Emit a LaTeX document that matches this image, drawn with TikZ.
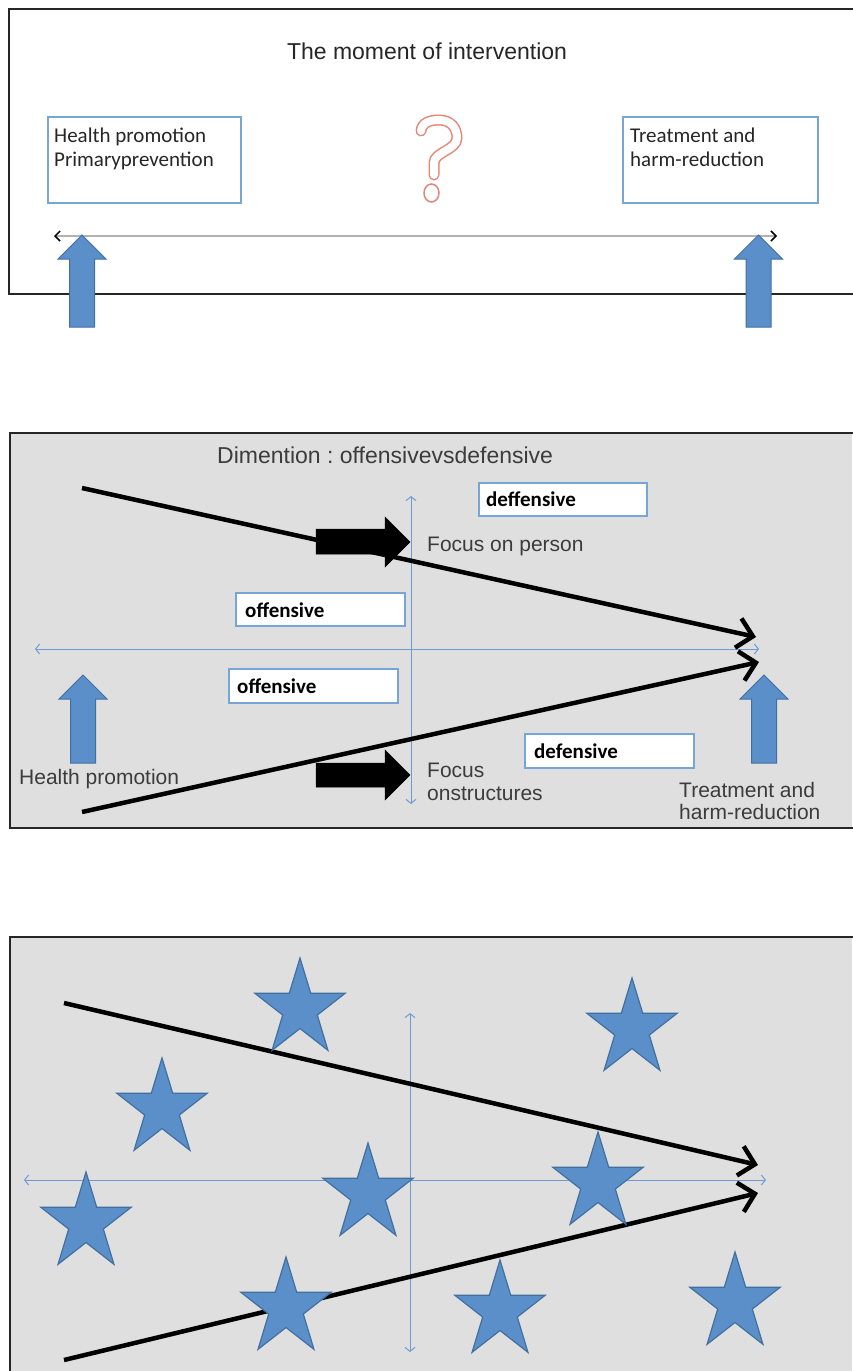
\documentclass[tikz,border=0pt]{standalone}
\usepackage{fontspec}
\setmainfont{Liberation Sans}
\newfontfamily\calfont{Carlito}
\usetikzlibrary{arrows.meta}
\definecolor{bluefill}{RGB}{91,143,202}
\definecolor{blueline}{RGB}{65,112,160}
\definecolor{boxline}{RGB}{120,165,215}
\definecolor{axisblue}{RGB}{110,155,210}
\definecolor{panelgray}{RGB}{223,223,223}
\definecolor{qcol}{RGB}{228,135,120}
\definecolor{labgray}{RGB}{60,60,60}
\frenchspacing
\newcommand\myuparrow[3]{%
  \draw[blockblue] (#1,#2) -- (#1+24,#2+24) -- (#1+12.5,#2+24) -- (#1+12.5,#3) -- (#1-12.5,#3) -- (#1-12.5,#2+24) -- (#1-24,#2+24) -- cycle;}
\newcommand\mystar[2]{%
  \draw[starst, shift={(#1,#2)}] (-90:47.5 and 51) \foreach \k in {0,...,4} { -- ({-54+72*\k}:18.2 and 19.5) -- ({-18+72*\k}:47.5 and 51) } -- cycle;}
\begin{document}
\begin{tikzpicture}[x=1pt,y=-1pt,
  panel/.style={draw=black!85, line width=2pt},
  bluebox/.style={draw=boxline, line width=1.5pt, fill=white, inner sep=0pt},
  lab/.style={inner sep=0pt, anchor=base west, font=\fontsize{21}{24}\selectfont, text=labgray},
  caltext/.style={inner sep=0pt, anchor=base west, font=\calfont\fontsize{21}{24}\selectfont, text=black!85},
  boldtext/.style={inner sep=0pt, anchor=base west, font=\calfont\bfseries\fontsize{21}{24}\selectfont, text=black},
  bigarrow/.style={line width=4.5pt, -{Straight Barb[length=15pt,width=30pt]}},
  axis/.style={axisblue, line width=1pt, {Straight Barb[length=4pt,width=10pt]}-{Straight Barb[length=4pt,width=10pt]}},
  blockblue/.style={fill=bluefill, draw=blueline, line width=1pt},
  blockblack/.style={fill=black, draw=black, line width=0.5pt},
  starst/.style={fill=bluefill, draw=blueline, line width=1.2pt}]
\useasboundingbox (0,0) rectangle (852,1371);
% ---------- panel 1 ----------
\fill[white] (9,9) rectangle (852,294);
\draw[panel] (853,9) -- (9,9) -- (9,294) -- (853,294);
\node[anchor=base, inner sep=0pt, font=\fontsize{23}{27}\selectfont, text=black!85] (title1) at (427,59) {The moment of intervention};
\node[bluebox, anchor=north west, minimum width=193pt, minimum height=86pt] (hpbox) at (47,116) {};
\node[caltext] (hp1) at (54,142) {Health promotion};
\node[caltext] (hp2) at (54,166) {Primaryprevention};
\node[bluebox, anchor=north west, minimum width=195pt, minimum height=86pt] (trbox) at (622,116) {};
\node[caltext] (tr1) at (630,142) {Treatment and};
\node[caltext] (tr2) at (630,166) {harm-reduction};
% question mark
\draw[qcol, line width=11pt, line cap=round] (421,131) .. controls (422,122) and (431,120) .. (439,120) .. controls (451,120) and (457,128) .. (457,138) .. controls (457,150) and (434,152) .. (434,163) -- (434,175);
\draw[white, line width=8pt, line cap=round] (421,131) .. controls (422,122) and (431,120) .. (439,120) .. controls (451,120) and (457,128) .. (457,138) .. controls (457,150) and (434,152) .. (434,163) -- (434,175);
\draw[qcol, line width=1.5pt, fill=white] (431.5,193) ellipse [x radius=7.5, y radius=9];
\coordinate (a1l) at (54,236);
\coordinate (a1r) at (777,236);
\draw[black!30, line width=2pt, {Straight Barb[length=5pt,width=10pt,color=black,line width=1.5pt]}-{Straight Barb[length=5pt,width=10pt,color=black,line width=1.5pt]}] (a1l) -- (a1r);
\myuparrow{82}{235}{327}
\myuparrow{758.5}{235}{327}
% ---------- panel 2 ----------
\fill[panelgray] (10,433) rectangle (852,828);
\draw[panel] (853,433) -- (10,433) -- (10,828) -- (853,828);
\node[lab, font=\fontsize{23}{27}\selectfont] (title2) at (217,463) {Dimention : offensivevsdefensive};
\coordinate (h2l) at (35,649);
\coordinate (h2r) at (759,649);
\coordinate (v2t) at (411,496);
\coordinate (v2b) at (411,804);
\draw[axis] (h2l) -- (h2r);
\draw[axis] (v2t) -- (v2b);
\node[bluebox, anchor=north west, minimum width=168pt, minimum height=33pt] (defbox1) at (478,482) {};
\node[boldtext] (deftext1) at (486,506) {deffensive};
\node[bluebox, anchor=north west, minimum width=169pt, minimum height=33pt] (offbox1) at (235,592) {};
\node[boldtext] (offtext1) at (245,617) {offensive};
\node[bluebox, anchor=north west, minimum width=169pt, minimum height=34pt] (offbox2) at (228,668) {};
\node[boldtext] (offtext2) at (237,693) {offensive};
\node[bluebox, anchor=north west, minimum width=169pt, minimum height=34pt] (defbox2) at (524,733) {};
\node[boldtext] (deftext2) at (534,758) {defensive};
\coordinate (u2s) at (82,488);
\coordinate (u2e) at (756,637);
\coordinate (l2s) at (82,812);
\coordinate (l2e) at (759,662);
\draw[bigarrow] (u2s) -- (u2e);
\draw[bigarrow] (l2s) -- (l2e);
\draw[blockblack] (316,529) -- (385,529) -- (385,517) -- (410,542) -- (385,567) -- (385,554) -- (316,554) -- cycle;
\draw[blockblack] (316,763) -- (385,763) -- (385,750) -- (410,775) -- (385,800) -- (385,787) -- (316,787) -- cycle;
\node[lab] (fperson) at (427,551) {Focus on person};
\node[lab] (fstruct1) at (427,777) {Focus};
\node[lab] (fstruct2) at (427,800) {onstructures};
\node[lab] (hp3) at (19,784) {Health promotion};
\node[lab] (tr3) at (679,797) {Treatment and};
\node[lab] (tr4) at (679,819) {harm-reduction};
\myuparrow{83}{675}{763}
\myuparrow{764}{675}{763}
% ---------- panel 3 ----------
\fill[panelgray] (10,937) rectangle (852,1371);
\draw[panel] (853,937) -- (10,937) -- (10,1373);
\coordinate (h3l) at (24,1180);
\coordinate (h3r) at (766,1180);
\coordinate (v3t) at (410,1013);
\coordinate (v3b) at (410,1352);
\draw[axis] (h3l) -- (h3r);
\draw[axis] (v3t) -- (v3b);
\coordinate (u3s) at (64,1003);
\coordinate (u3e) at (758,1165);
\coordinate (l3s) at (64,1360);
\coordinate (l3e) at (758,1193);
\draw[bigarrow] (u3s) -- (u3e);
\draw[bigarrow] (l3s) -- (l3e);
\mystar{300}{1009}
\mystar{632}{1029}
\mystar{162}{1109}
\mystar{86}{1223}
\mystar{368}{1194}
\mystar{598}{1183}
\mystar{286}{1308}
\mystar{500}{1311}
\mystar{735}{1303}
\end{tikzpicture}
\end{document}
